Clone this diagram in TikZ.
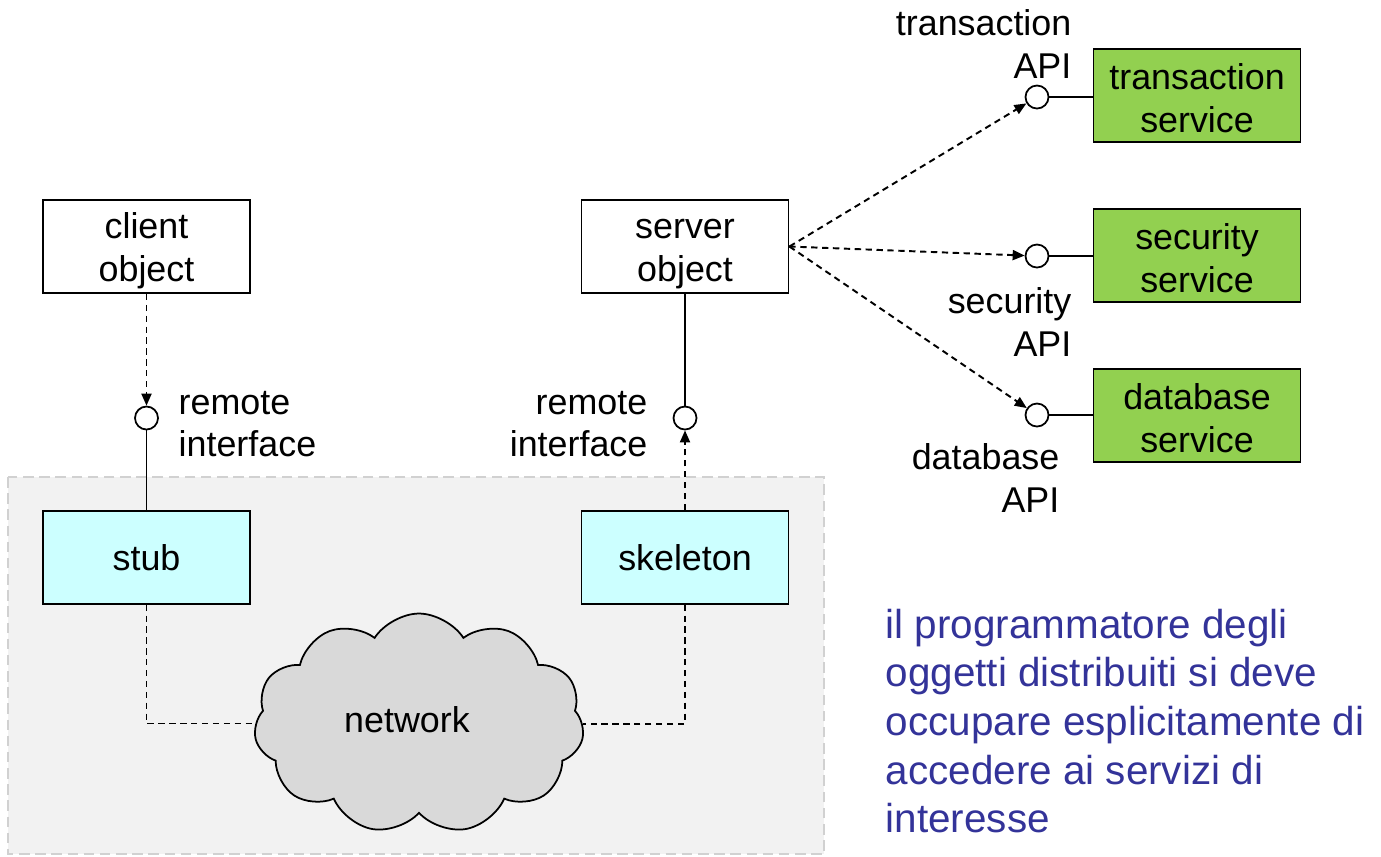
\documentclass[tikz,border=0pt]{standalone}
\usepackage{fontspec}
\setmainfont{Liberation Sans}
\usetikzlibrary{arrows.meta,positioning,shapes.symbols}
\definecolor{svcgreen}{HTML}{92D050}
\definecolor{proxycyan}{HTML}{CCFFFF}
\definecolor{notecol}{HTML}{333399}
\definecolor{netgray}{HTML}{D9D9D9}
\newcommand{\topstrut}{\rule{0pt}{9.7pt}}

\begin{document}
\begin{tikzpicture}[
    node distance=2.16cm,
    every node/.style={font=\fontsize{10.2}{12.2}\selectfont},
    box/.style={draw, align=center, minimum width=2.07cm, minimum height=0.93cm, inner sep=0pt, line width=0.5pt},
    obj/.style={box},
    proxy/.style={box, fill=proxycyan},
    svc/.style={box, fill=svcgreen},
    iface/.style={draw, circle, fill=white, minimum size=0.23cm, inner sep=0pt, line width=0.5pt},
    lbl/.style={inner sep=0pt},
    dep/.style={-{Triangle[length=1.2mm,width=1mm]}, dash pattern=on 1.8pt off 1.3pt, line width=0.55pt},
    netlink/.style={dash pattern=on 1.8pt off 1.3pt, line width=0.55pt},
    wire/.style={line width=0.5pt}
]
\useasboundingbox (0,0) rectangle (13.81,-8.56);

% middleware area
\draw[fill=black!5, draw=black!18, dash pattern=on 3pt off 1.6pt, line width=0.5pt] (0.08,-4.77) rectangle (8.24,-8.54);

% client side
\node[obj] (client) at (1.465,-2.465) {\topstrut client\\object};
\node[proxy, below=of client] (stub) {stub};
\node[iface] (ccirc) at (1.465,-4.18) {};
\node[lbl, align=left, anchor=west] (clbl) at (1.78,-4.24) {remote\\interface};

% server side
\node[obj] (server) at (6.85,-2.465) {\topstrut server\\object};
\node[proxy, below=of server] (skel) {skeleton};
\node[iface] (scirc) at (6.85,-4.18) {};
\node[lbl, align=right, anchor=east] (slbl) at (6.48,-4.24) {remote\\interface};

% services
\node[svc] (trans) at (11.97,-0.955) {\topstrut transaction\\service\rule[-1pt]{0pt}{1pt}};
\node[svc] (secur) at (11.97,-2.555) {\topstrut security\\service\rule[-1pt]{0pt}{1pt}};
\node[svc] (dbase) at (11.97,-4.155) {\topstrut database\\service\rule[-1pt]{0pt}{1pt}};
\node[iface] (tapi) at (10.37,-0.97) {};
\node[iface] (sapi) at (10.37,-2.56) {};
\node[iface] (dapi) at (10.37,-4.15) {};
\node[lbl, align=right, anchor=east] (tlbl) at (10.72,-0.44) {transaction\\API};
\node[lbl, align=right, anchor=east] (slbl2) at (10.72,-3.22) {security\\API};
\node[lbl, align=right, anchor=east] (dlbl) at (10.60,-4.78) {database\\API};

% network
\node[cloud, cloud puffs=11, cloud puff arc=115, aspect=1.5, draw, fill=netgray,
      minimum width=3.3cm, minimum height=2.2cm, line width=0.5pt] (net) at (4.19,-7.235) {};
\node (netlbl) at (4.07,-7.2) {network};

% note
\node[lbl, align=left, anchor=north west, text=notecol,
      font=\fontsize{11.5}{13.85}\selectfont] (note) at (8.85,-6.08)
  {il programmatore degli\\oggetti distribuiti si deve\\occupare esplicitamente di\\accedere ai servizi di\\interesse};

% connectors
\draw[dep] (client) -- (ccirc);
\draw[wire] (ccirc) -- (stub);
\draw[wire] (server) -- (scirc);
\draw[dep] (skel) -- (scirc);
\draw[netlink] (stub.south) |- (net.west);
\draw[netlink] (skel.south) |- (net.east);
\draw[dep] (server.east) -- (tapi);
\draw[dep] (server.east) -- (sapi);
\draw[dep] (server.east) -- (dapi);
\draw[wire] (tapi.east) -- (tapi.east -| trans.west);
\draw[wire] (sapi.east) -- (sapi.east -| secur.west);
\draw[wire] (dapi.east) -- (dapi.east -| dbase.west);
\end{tikzpicture}
\end{document}
